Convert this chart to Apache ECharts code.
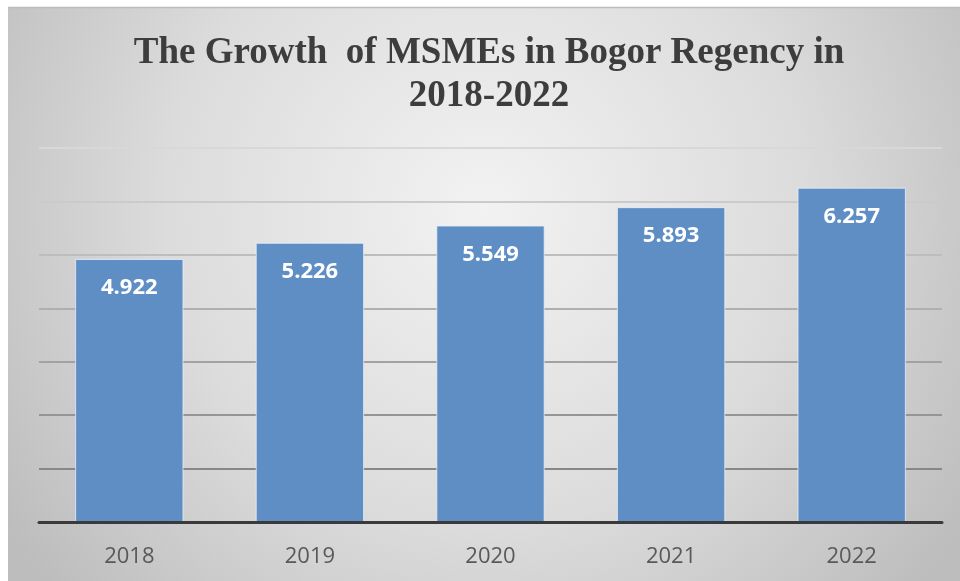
<!DOCTYPE html>
<html>
<head>
<meta charset="utf-8">
<script src="https://cdn.jsdelivr.net/npm/echarts@6/dist/echarts.min.js"></script>
<style>
  html, body { margin: 0; padding: 0; background: #ffffff; }
  #chart { width: 960px; height: 581px; }
</style>
</head>
<body>
<div id="chart"></div>
<script>
// Number of MSMEs in Bogor Regency per year
const years = ['2018', '2019', '2020', '2021', '2022'];
const msmeCounts = [4.922, 5.226, 5.549, 5.893, 6.257];
const titleText = 'The Growth  of MSMEs in Bogor Regency in\n2018-2022';

const chart = echarts.init(document.getElementById('chart'), null, { renderer: 'canvas' });

// Plot area bounds (pixels)
const plotTop = 148;
const plotBottom = 522;

chart.setOption({
  animation: false,
  backgroundColor: '#ffffff',
  // Soft radial panel behind the whole chart
  graphic: [
    {
      type: 'rect',
      z: -10,
      silent: true,
      shape: { x: 8, y: 7, width: 952, height: 574 },
      style: {
        fill: {
          type: 'radial', x: 0.5, y: 0.35, r: 1.0,
          colorStops: [
            { offset: 0, color: '#f2f2f2' },
            { offset: 0.55, color: '#dcdcdc' },
            { offset: 1, color: '#bdbdbd' }
          ]
        }
      }
    },
    {
      type: 'line',
      z: -9,
      silent: true,
      shape: { x1: 8, y1: 7.5, x2: 960, y2: 7.5 },
      style: { stroke: '#bcbcbc', lineWidth: 1.5 }
    }
  ],
  title: {
    text: titleText,
    left: 484,
    top: 27,
    textAlign: 'center',
    textStyle: {
      fontFamily: '"Liberation Serif", "Times New Roman", serif',
      fontWeight: 'bold',
      fontSize: 37,
      lineHeight: 43,
      color: '#3d3d3d'
    }
  },
  grid: {
    left: 39,
    right: 18,
    top: plotTop,
    bottom: 581 - plotBottom,
    containLabel: false,
    outerBoundsMode: 'none'
  },
  xAxis: {
    type: 'category',
    data: years,
    z: 3,
    axisLine: { show: true, lineStyle: { color: '#3a3a3a', width: 3 } },
    axisTick: { show: false },
    axisLabel: {
      margin: 24,
      fontFamily: '"Open Sans", sans-serif',
      fontSize: 22,
      color: '#595959'
    }
  },
  yAxis: {
    type: 'value',
    min: 0,
    max: 7,
    interval: 1,
    axisLine: { show: false },
    axisTick: { show: false },
    axisLabel: { show: false },
    splitLine: {
      show: true,
      lineStyle: {
        width: 2,
        color: {
          type: 'linear', x: 0, y: plotTop, x2: 0, y2: plotBottom, global: true,
          colorStops: [
            { offset: 0, color: '#d8d8d8' },
            { offset: 1, color: '#7a7a7a' }
          ]
        }
      }
    }
  },
  series: [
    {
      type: 'bar',
      data: msmeCounts,
      barCategoryGap: '40%',
      z: 2,
      itemStyle: {
        color: '#5f8ec5',
        borderColor: 'rgba(235,242,252,0.75)',
        borderWidth: 1
      },
      label: {
        show: true,
        position: 'insideTop',
        distance: 18,
        formatter: p => p.value.toFixed(3),
        fontFamily: '"Open Sans", sans-serif',
        fontWeight: 'bold',
        fontSize: 22,
        color: '#ffffff'
      }
    }
  ]
});
</script>
</body>
</html>
